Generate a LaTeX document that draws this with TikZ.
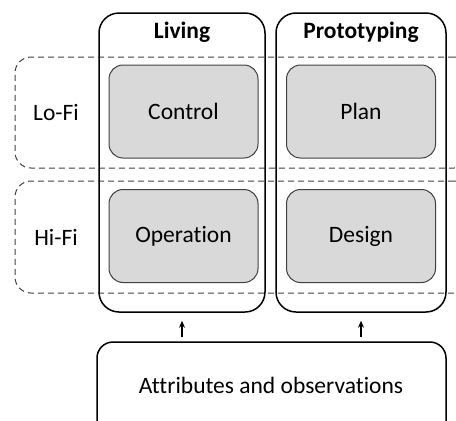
\documentclass[tikz,border=0pt]{standalone}
\usepackage{fontspec}
\setmainfont{Carlito}[Ligatures=NoCommon]
\usetikzlibrary{arrows.meta,calc}
\definecolor{boxgray}{HTML}{D9D9D9}
\definecolor{edgegray}{HTML}{404040}
\begin{document}
\begin{tikzpicture}[x=1pt,y=1pt,
  font=\fontsize{23.5}{28}\selectfont,
  colbox/.style={draw=black,line width=1.5pt,rounded corners=20pt,inner sep=0pt},
  fibox/.style={draw=edgegray,line width=1pt,dash pattern=on 6pt off 4pt,rounded corners=16pt,inner sep=0pt},
  graybox/.style={draw=edgegray,fill=boxgray,line width=1pt,rounded corners=14pt,inner sep=0pt,minimum width=149pt,minimum height=93pt},
  attrbox/.style={draw=black,line width=1.5pt,rounded corners=16pt,inner sep=0pt},
  arr/.style={-{Stealth[length=7pt,width=6pt]},line width=1.1pt},
  lab/.style={inner sep=0pt}
]
\clip (0,0) rectangle (456,-421);
\useasboundingbox (0,0) rectangle (456,-421);
% Fidelity bands
\node[fibox,minimum width=455pt,minimum height=111pt] (lofi) at (242.5,-112.5) {};
\node[fibox,minimum width=455pt,minimum height=112pt] (hifi) at (242.5,-237) {};
% Columns
\node[colbox,minimum width=166pt,minimum height=299pt] (living) at (182,-162.5) {};
\node[colbox,minimum width=170pt,minimum height=299pt] (proto) at (361,-162.5) {};
% Column titles
\node[lab,font=\fontsize{23.5}{28}\selectfont\bfseries] (livingt) at (182,-32) {Living};
\node[lab,font=\fontsize{23.5}{28}\selectfont\bfseries] (protot) at (361,-32) {Prototyping};
% Row labels
\node[lab] (lofit) at (56,-112) {Lo-Fi};
\node[lab] (hifit) at (56,-237) {Hi-Fi};
% Gray boxes
\node[graybox] (control) at (183.5,-111.5) {Control};
\node[graybox] (plan) at (361,-111.5) {Plan};
\node[graybox] (operation) at (183.5,-236) {Operation};
\node[graybox] (design) at (361,-236) {Design};
% Attributes box
\node[attrbox,minimum width=349pt,minimum height=98pt] (attr) at (271.5,-391) {};
\node[lab] (attrt) at (271,-385) {Attributes and observations};
% Arrows
\draw[arr] ([yshift=4pt]attr.north -| living.south) -- ([yshift=-8pt]living.south);
\draw[arr] ([yshift=4pt]attr.north -| proto.south) -- ([yshift=-8pt]proto.south);
\end{tikzpicture}
\end{document}
